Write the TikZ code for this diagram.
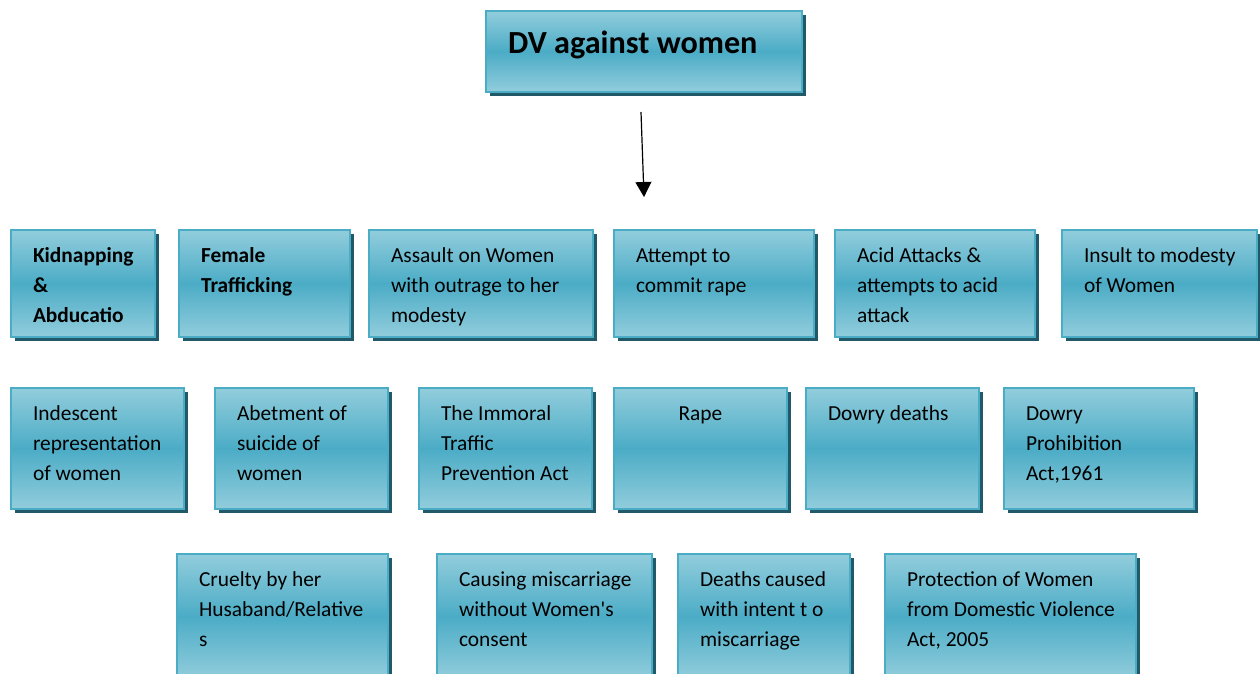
\documentclass[tikz,border=0pt]{standalone}
\usepackage{fontspec}
\setmainfont{Carlito}
\usetikzlibrary{shadows,arrows.meta}
\definecolor{boxtop}{HTML}{92CDDC}
\definecolor{boxmid}{HTML}{4BACC6}
\definecolor{boxedge}{HTML}{4BACC6}
\definecolor{boxshade}{HTML}{215968}
\newcommand{\boxlines}[3]{\parbox[t][#2pt][t]{#1pt}{\raggedright\leftskip=22pt\rule{0pt}{32pt}#3}}
\begin{document}
\begin{tikzpicture}[x=1pt,y=-1pt,
		dvbox/.style={draw=boxedge,line width=2pt,top color=boxtop,bottom color=boxtop,middle color=boxmid,
			drop shadow={shadow xshift=4pt,shadow yshift=-4pt,fill=boxshade,opacity=1},
			anchor=north west,inner sep=0pt,outer sep=0pt,
			font=\fontsize{21.4}{30}\selectfont},
		pointer/.style={line width=1.2pt,-{Triangle[length=15pt,width=16pt]}}]
		\useasboundingbox (0,0) rectangle (1260,673);
		\node[dvbox,font=\fontsize{32.2}{40}\bfseries\selectfont] (dv) at (486,11) {\parbox[t][81pt][t]{316pt}{\leftskip=22pt\rule{0pt}{42pt}DV against women}};
		\coordinate (arrtop) at (641,112);
		\coordinate (arrtip) at (644,197);
		\draw[pointer] (arrtop)--(arrtip);
		% first row
		\node[dvbox] (kid) at (11,230) {\boxlines{144}{107}{\bfseries Kidnapping\\ \&\\ Abducatio}};
		\node[dvbox] (fem) at (179,230) {\boxlines{171}{107}{\bfseries Female\\ Trafficking}};
		\node[dvbox] (asl) at (369,230) {\boxlines{224}{107}{Assault on Women\\ with outrage to her\\ modesty}};
		\node[dvbox] (att) at (614,230) {\boxlines{200}{107}{Attempt to\\ commit rape}};
		\node[dvbox] (acid) at (835,230) {\boxlines{200}{107}{Acid Attacks \&\\ attempts to acid\\ attack}};
		\node[dvbox] (ins) at (1062,230) {\boxlines{195}{107}{Insult to modesty\\ of Women}};
		% second row
		\node[dvbox] (ind) at (11,388) {\boxlines{173}{121}{Indescent\\ representation\\ of women}};
		\node[dvbox] (abe) at (215,388) {\boxlines{173}{121}{Abetment of\\ suicide of\\ women}};
		\node[dvbox] (imm) at (419,388) {\boxlines{173}{121}{The Immoral\\ Traffic\\ Prevention Act}};
		\node[dvbox] (rape) at (614,388) {\boxlines{173}{121}{\centering Rape}};
		\node[dvbox] (ddeath) at (806,388) {\boxlines{173}{121}{Dowry deaths}};
		\node[dvbox] (dprohib) at (1004,388) {\boxlines{190}{121}{Dowry\\ Prohibition\\ Act,1961}};
		% third row
		\node[dvbox] (cru) at (177,554) {\boxlines{211}{125}{Cruelty by her\\ Husaband/Relative\\ s}};
		\node[dvbox] (cau) at (437,554) {\boxlines{215}{125}{Causing miscarriage\\ without Women\textquotesingle s\\ consent}};
		\node[dvbox] (dea) at (678,554) {\boxlines{172}{125}{Deaths caused\\ with intent t o\\ miscarriage}};
		\node[dvbox] (pro) at (885,554) {\boxlines{251}{125}{Protection of Women\\ from Domestic Violence\\ Act, 2005}};
	\end{tikzpicture}
\end{document}
